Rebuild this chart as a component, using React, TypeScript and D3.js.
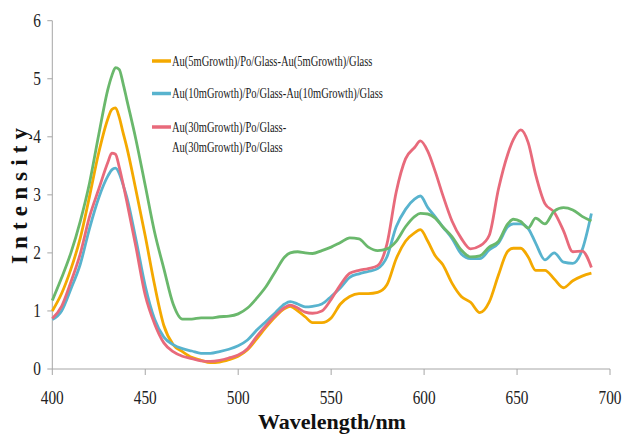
import React from 'react';
import * as d3 from 'd3';

// wavelength grid (nm) shared by all spectra
const wavelengths = [
  400, 405, 410, 415, 420, 425, 430, 432, 434, 436, 438, 440, 445, 450, 455, 460, 465, 470,
  475, 480, 485, 490, 495, 500, 505, 510, 515, 520, 525, 528, 532, 536, 540, 545, 550, 555,
  560, 565, 570, 575, 580, 585, 590, 595, 598, 602, 606, 610, 615, 620, 625, 630, 635, 640,
  645, 648, 652, 656, 660, 665, 670, 675, 680, 685, 690,
];

const au5m = [
  1.0, 1.3, 1.72, 2.25, 2.97, 3.73, 4.32, 4.47, 4.5, 4.34, 4.08, 3.83, 3.08, 2.29, 1.45, 0.75, 0.42, 0.3,
  0.2, 0.15, 0.11, 0.12, 0.16, 0.22, 0.33, 0.52, 0.72, 0.9, 1.04, 1.08, 1.0, 0.9, 0.8, 0.8, 0.88, 1.12,
  1.25, 1.3, 1.3, 1.32, 1.45, 1.9, 2.2, 2.35, 2.4, 2.2, 1.95, 1.8, 1.48, 1.25, 1.15, 0.97, 1.15, 1.62,
  2.03, 2.08, 2.08, 1.93, 1.7, 1.7, 1.55, 1.4, 1.52, 1.6, 1.65,
];

const au10m = [
  0.85, 1.0, 1.38, 1.8, 2.42, 2.95, 3.33, 3.43, 3.46, 3.37, 3.18, 2.97, 2.23, 1.43, 0.86, 0.55, 0.42, 0.35,
  0.31, 0.27, 0.27, 0.3, 0.34, 0.4, 0.5, 0.67, 0.82, 0.97, 1.12, 1.16, 1.12, 1.07, 1.08, 1.12, 1.25, 1.4,
  1.58, 1.64, 1.68, 1.73, 1.93, 2.45, 2.75, 2.93, 2.98, 2.78, 2.62, 2.45, 2.25, 1.98, 1.9, 1.9, 2.05, 2.17,
  2.45, 2.5, 2.5, 2.42, 2.17, 1.88, 2.0, 1.84, 1.82, 2.05, 2.68,
];

const au30m = [
  0.87, 1.08, 1.5, 1.98, 2.62, 3.1, 3.57, 3.72, 3.7, 3.48, 3.2, 2.9, 2.1, 1.27, 0.78, 0.45, 0.3, 0.22,
  0.18, 0.14, 0.13, 0.15, 0.19, 0.24, 0.35, 0.56, 0.75, 0.92, 1.06, 1.1, 1.05, 0.98, 0.96, 1.0, 1.2, 1.45,
  1.65, 1.7, 1.73, 1.78, 2.15, 3.05, 3.62, 3.82, 3.93, 3.75, 3.4, 3.0, 2.55, 2.25, 2.07, 2.12, 2.3, 3.1,
  3.7, 3.95, 4.12, 3.9, 3.35, 2.85, 2.7, 2.38, 2.02, 2.03, 1.75,
];

// fourth spectrum (green), not listed in the legend
const auRef = [
  1.18, 1.57, 2.0, 2.54, 3.2, 4.04, 4.83, 5.05, 5.19, 5.16, 4.93, 4.65, 3.95, 3.16, 2.36, 1.73, 1.12, 0.86,
  0.86, 0.88, 0.88, 0.9, 0.91, 0.95, 1.05, 1.22, 1.42, 1.68, 1.93, 2.0, 2.02, 2.0, 1.99, 2.04, 2.1, 2.18,
  2.26, 2.24, 2.1, 2.04, 2.07, 2.2, 2.45, 2.63, 2.68, 2.67, 2.6, 2.45, 2.28, 2.05, 1.93, 1.95, 2.1, 2.2,
  2.5, 2.58, 2.54, 2.43, 2.6, 2.5, 2.72, 2.78, 2.74, 2.63, 2.55,
];

const xTicks = [400, 450, 500, 550, 600, 650, 700];
const yTicks = [0, 1, 2, 3, 4, 5, 6];

const legendLabels = [
  ['Au(5mGrowth)/Po/Glass-Au(5mGrowth)/Glass'],
  ['Au(10mGrowth)/Po/Glass-Au(10mGrowth)/Glass'],
  ['Au(30mGrowth)/Po/Glass-', 'Au(30mGrowth)/Po/Glass'],
];

const colors = {
  au5m: '#F4A900',
  au10m: '#58B3CE',
  au30m: '#E86A7B',
  auRef: '#6AB86C',
};

const W = 624;
const H = 437;
const serif = '"Liberation Serif", "Times New Roman", serif';

export default function App() {
  const x = d3.scaleLinear().domain([400, 700]).range([52.3, 610]);
  const y = d3.scaleLinear().domain([0, 6]).range([369, 20.7]);

  const line = d3
    .line<number>()
    .x((_, i) => x(wavelengths[i]))
    .y((d) => y(d))
    .curve(d3.curveMonotoneX);

  const series = [
    { key: 'au5m', values: au5m },
    { key: 'au10m', values: au10m },
    { key: 'au30m', values: au30m },
    { key: 'auRef', values: auRef },
  ];

  const legendRows = [
    { color: colors.au5m, y: 61 },
    { color: colors.au10m, y: 93.5 },
    { color: colors.au30m, y: 127 },
  ];

  const [x0, x1] = x.range();
  const [y0, y1] = y.range();

  return (
    <svg
      width={W}
      height={H}
      style={{ position: 'absolute', left: 0, top: 0, background: '#fff' }}
      fontFamily={serif}
    >
      {/* axes */}
      <line x1={x0} x2={x0} y1={y1} y2={y0} stroke="#A6A6A6" strokeWidth={1} />
      <line x1={x0} x2={x1} y1={y0} y2={y0} stroke="#A6A6A6" strokeWidth={1} />
      {yTicks.map((t) => (
        <g key={'y' + t} transform={`translate(0,${y(t)})`}>
          <line x1={x0 - 5} x2={x0} stroke="#A6A6A6" />
          <text
            transform="translate(41,0) scale(0.85,1)"
            textAnchor="end"
            dy="0.35em"
            fontSize={18}
            fill="#222"
          >
            {t}
          </text>
        </g>
      ))}
      {xTicks.map((t) => (
        <g key={'x' + t} transform={`translate(${x(t)},0)`}>
          <line y1={y0} y2={y0 + 6} stroke="#A6A6A6" />
          <text
            transform={`translate(0,404) scale(0.85,1)`}
            textAnchor="middle"
            fontSize={18}
            fill="#222"
          >
            {t}
          </text>
        </g>
      ))}

      {/* spectra */}
      {series.map((s) => (
        <path
          key={s.key}
          d={line(s.values) || ''}
          fill="none"
          stroke={colors[s.key as keyof typeof colors]}
          strokeWidth={2.8}
          strokeLinejoin="round"
        />
      ))}

      {/* legend */}
      {legendRows.map((r, i) => (
        <g key={'lg' + i}>
          <line x1={152} x2={171} y1={r.y} y2={r.y} stroke={r.color} strokeWidth={3.5} />
          {legendLabels[i].map((txt, j) => (
            <text
              key={j}
              transform={`translate(172,${r.y + j * 20}) scale(0.75,1)`}
              dy="0.35em"
              fontSize={14}
              fill="#1a1a1a"
            >
              {txt}
            </text>
          ))}
        </g>
      ))}

      {/* axis titles */}
      <text x={332} y={429} textAnchor="middle" fontSize={22} fontWeight="bold" fill="#111">
        Wavelength/nm
      </text>
      <text
        transform="translate(27,196) rotate(-90)"
        textAnchor="middle"
        fontSize={23}
        fontWeight="bold"
        textLength={136}
        lengthAdjust="spacing"
        fill="#111"
      >
        Intensity
      </text>
    </svg>
  );
}
